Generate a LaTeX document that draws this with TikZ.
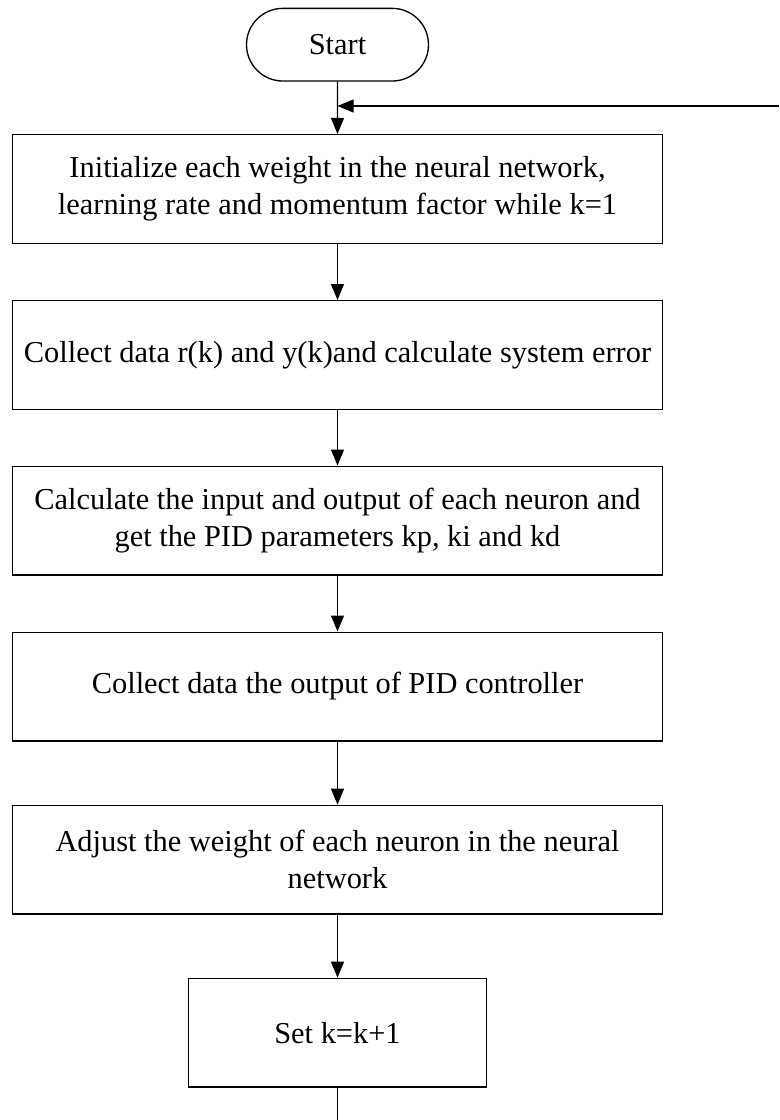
\documentclass[tikz,border=0pt]{standalone}
\usepackage{fontspec}
\setmainfont{Liberation Serif}
\usepackage{tikz}
\usetikzlibrary{arrows.meta,positioning,shapes.misc}

\begin{document}
\begin{tikzpicture}[x=0.75pt,y=-0.75pt,font=\fontsize{22.8}{27.5}\selectfont,
 >={Triangle[length=12pt,width=9.75pt]},
 term/.style={draw,line width=1pt,rounded rectangle,minimum width=136.5pt,minimum height=54.5pt,inner sep=0pt},
 box/.style={draw,line width=1pt,align=center,minimum width=487.5pt,minimum height=81.5pt,inner sep=0pt},
 small/.style={draw,line width=1pt,align=center,minimum width=223.5pt,minimum height=81.5pt,inner sep=0pt},
 flow/.style={->,line width=0.8pt}]
\useasboundingbox (0,0) rectangle (779,1120);
\node[term] (start) at (337.5,44.7) {Start};
\node[box] (init) at (337.5,189) {Initialize each weight in the neural network,\\learning rate and momentum factor while k=1};
\node[box] (err) at (337.5,355) {Collect data r(k) and y(k)and calculate system error};
\node[box] (pid) at (337.5,520.5) {Calculate the input and output of each neuron and\\get the PID parameters kp, ki and kd};
\node[box] (out) at (337.5,686.5) {Collect data the output of PID controller};
\node[box] (adj) at (337.5,859.7) {Adjust the weight of each neuron in the neural\\network};
\node[small] (inc) at (337.5,1032.7) {Set k=k+1};
% loop back
\coordinate (loopin) at (779,106);
\coordinate (join) at (337.5,106);
\coordinate (loopout) at (337.5,1120);
\draw[flow] (start) -- (init);
\draw[flow] (loopin) -- (join);
\draw[flow] (init) -- (err);
\draw[flow] (err) -- (pid);
\draw[flow] (pid) -- (out);
\draw[flow] (out) -- (adj);
\draw[flow] (adj) -- (inc);
\draw[line width=0.8pt] (inc) -- (loopout);
\end{tikzpicture}
\end{document}
